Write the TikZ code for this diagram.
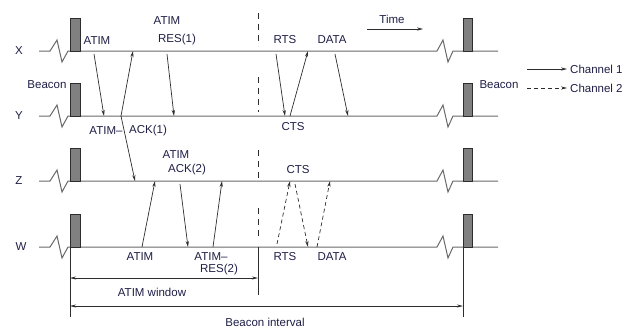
\documentclass[tikz,border=0pt]{standalone}
\usepackage{fontspec}
\setmainfont{Liberation Sans}
\usetikzlibrary{arrows.meta}
\definecolor{txt}{RGB}{30,30,70}
\definecolor{tl}{RGB}{105,105,105}
\definecolor{arr}{RGB}{45,45,45}
\definecolor{bfill}{RGB}{128,128,128}
\begin{document}
\begin{tikzpicture}[x=1pt,y=-1pt,
  lbl/.style={text=txt,inner sep=0pt,font=\fontsize{11.5}{13}\selectfont},
  tline/.style={draw=tl,line width=1pt},
  beacon/.style={draw=arr,fill=bfill,line width=0.8pt},
  msg/.style={draw=arr,line width=0.7pt,-{Stealth[length=6pt,width=3.2pt]}},
  msgd/.style={msg,dash pattern=on 4pt off 3pt},
  dim/.style={draw=arr,line width=0.7pt,{Stealth[length=6pt,width=3pt]}-{Stealth[length=6pt,width=3pt]}},
  vline/.style={draw=arr,line width=0.8pt}]
\useasboundingbox (0,0) rectangle (635,330);

% timelines
\foreach \y in {51,116,181,247}{
  \draw[tline] (39,\y) -- (50,\y) -- (57,\y-11) -- (62,\y+11) -- (68,\y) -- (437,\y)
     -- (443,\y-11) -- (448,\y+11) -- (453,\y) -- (498,\y);
  \draw[beacon] (70,\y) rectangle (80,\y-33);
  \draw[beacon] (463,\y) rectangle (472,\y-33);
}

% station labels
\node[lbl] (sx) at (19,51) {X};
\node[lbl] (sy) at (19,116) {Y};
\node[lbl] (sz) at (19,181) {Z};
\node[lbl] (sw) at (21,247) {W};
\node[lbl] (bl) at (47,85) {Beacon};
\node[lbl] (br) at (499,85) {Beacon};

% ATIM window end / beacon interval end lines
\coordinate (l0) at (70,247); \coordinate (l1) at (70,317);
\coordinate (r0) at (463,247); \coordinate (r1) at (463,317);
\draw[vline] (l0) -- (l1);
\draw[vline] (r0) -- (r1);
\coordinate (d0) at (258,247); \coordinate (d1) at (258,295);
\draw[vline] (d0) -- (d1);
\foreach \a/\b in {13/46,77/112,150/178,208/240}{
  \draw[draw=arr,line width=0.8pt,dash pattern=on 6pt off 5pt] (258,\a) -- (258,\b);
}

% dimension arrows
\coordinate (aw0) at (70,278); \coordinate (aw1) at (258,278);
\draw[dim] (aw0) -- (aw1);
\coordinate (bi0) at (70,306); \coordinate (bi1) at (463,306);
\draw[dim] (bi0) -- (bi1);
\node[lbl] (awl) at (152,292) {ATIM window};
\node[lbl] (bil) at (265,322) {Beacon interval};

% time arrow
\coordinate (t0) at (367,29); \coordinate (t1) at (423,29);
\draw[msg] (t0) -- (t1);
\node[lbl] (tl) at (392,19) {Time};

% legend
\coordinate (c1a) at (527,69); \coordinate (c1b) at (567,69);
\coordinate (c2a) at (527,88); \coordinate (c2b) at (567,88);
\draw[msg] (c1a) -- (c1b);
\draw[msgd] (c2a) -- (c2b);
\node[lbl,anchor=west] (ch1) at (570,69) {Channel 1};
\node[lbl,anchor=west] (ch2) at (570,88) {Channel 2};

% channel 1 messages
\coordinate (m1a) at (94,54);   \coordinate (m1b) at (104,116);
\coordinate (m2a) at (121,116); \coordinate (m2b) at (133,51);
\coordinate (m3b) at (135,181);
\coordinate (m4a) at (167,54);  \coordinate (m4b) at (174,116);
\coordinate (m5a) at (142,247); \coordinate (m5b) at (155,181);
\coordinate (m6a) at (180,184); \coordinate (m6b) at (188,247);
\coordinate (m7a) at (213,247); \coordinate (m7b) at (222,181);
\coordinate (m8a) at (276,54);  \coordinate (m8b) at (285,116);
\coordinate (m9a) at (290,116); \coordinate (m9b) at (308,51);
\coordinate (m10a) at (335,54); \coordinate (m10b) at (348,116);
\draw[msg] (m1a) -- (m1b);
\draw[msg] (m2a) -- (m2b);
\draw[msg] (m2a) -- (m3b);
\draw[msg] (m4a) -- (m4b);
\draw[msg] (m5a) -- (m5b);
\draw[msg] (m6a) -- (m6b);
\draw[msg] (m7a) -- (m7b);
\draw[msg] (m8a) -- (m8b);
\draw[msg] (m9a) -- (m9b);
\draw[msg] (m10a) -- (m10b);

% channel 2 messages
\coordinate (n1a) at (277,244); \coordinate (n1b) at (290,181);
\coordinate (n2a) at (295,184); \coordinate (n2b) at (308,247);
\coordinate (n3a) at (317,247); \coordinate (n3b) at (330,181);
\draw[msgd] (n1a) -- (n1b);
\draw[msgd] (n2a) -- (n2b);
\draw[msgd] (n3a) -- (n3b);

% message labels
\node[lbl] (t1) at (97,41) {ATIM};
\node[lbl] (t2) at (167,21) {ATIM};
\node[lbl] (t3) at (177,40) {RES(1)};
\node[lbl] (t4) at (106,131) {ATIM--};
\node[lbl] (t5) at (148,131) {ACK(1)};
\node[lbl] (t6) at (176,155) {ATIM};
\node[lbl] (t7) at (187,170) {ACK(2)};
\node[lbl] (t8) at (140,257) {ATIM};
\node[lbl] (t9) at (211,257) {ATIM--};
\node[lbl] (t10) at (219,270) {RES(2)};
\node[lbl] (t11) at (285,40) {RTS};
\node[lbl] (t12) at (332,40) {DATA};
\node[lbl] (t13) at (293,127) {CTS};
\node[lbl] (t14) at (298,170) {CTS};
\node[lbl] (t15) at (285,257) {RTS};
\node[lbl] (t16) at (332,257) {DATA};
\end{tikzpicture}
\end{document}
